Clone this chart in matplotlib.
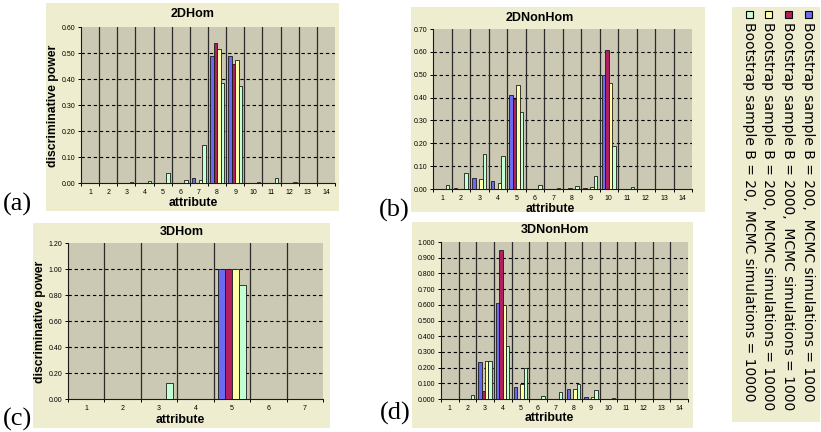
import numpy as np
import matplotlib.pyplot as plt
from matplotlib.patches import Rectangle

W, H = 821, 432

# --- data ---
series_names = ['Bootstrap sample B = 200,  MCMC simulations = 1000',
                'Bootstrap sample B = 2000,  MCMC simulations = 1000',
                'Bootstrap sample B = 200,  MCMC simulations = 10000',
                'Bootstrap sample B = 20,  MCMC simulations = 10000']
colors = ['#6B6BEF', '#B0205E', '#FFFFAA', '#C4FFD4']

# 2DHom
a_attr = list(range(1, 15))
a_blue = [0, 0, 0, 0, 0, 0, 0.020, 0.490, 0.490, 0, 0, 0, 0, 0]
a_red = [0, 0, 0, 0, 0, 0, 0, 0.540, 0.458, 0, 0, 0, 0, 0]
a_yellow = [0, 0, 0, 0, 0, 0, 0.012, 0.515, 0.472, 0, 0, 0, 0, 0]
a_green = [0, 0, 0.004, 0.008, 0.040, 0.012, 0.147, 0.385, 0.373, 0.003, 0.018, 0.003, 0, 0]

# 2DNonHom
b_attr = list(range(1, 15))
b_blue = [0, 0.003, 0.048, 0.035, 0.413, 0, 0, 0, 0.003, 0.500, 0, 0, 0, 0]
b_red = [0, 0, 0, 0, 0.395, 0, 0, 0.003, 0, 0.610, 0, 0, 0, 0]
b_yellow = [0, 0, 0.045, 0.027, 0.457, 0, 0, 0, 0.008, 0.465, 0, 0, 0, 0]
b_green = [0.017, 0.070, 0.153, 0.145, 0.337, 0.017, 0.003, 0.013, 0.057, 0.187, 0.008, 0, 0, 0]

# 3DHom
c_attr = list(range(1, 8))
c_blue = [0, 0, 0, 0, 1.0, 0, 0]
c_red = [0, 0, 0, 0, 1.0, 0, 0]
c_yellow = [0, 0, 0, 0, 1.0, 0, 0]
c_green = [0, 0, 0.120, 0, 0.876, 0, 0]

# 3DNonHom
d_attr = list(range(1, 15))
d_blue = [0, 0, 0.238, 0.610, 0.077, 0, 0, 0.063, 0.012, 0, 0, 0, 0, 0]
d_red = [0, 0, 0.053, 0.947, 0, 0, 0, 0, 0, 0, 0, 0, 0, 0]
d_yellow = [0, 0, 0.243, 0.596, 0.096, 0, 0, 0.062, 0.012, 0, 0, 0, 0, 0]
d_green = [0, 0.025, 0.243, 0.340, 0.200, 0.020, 0.047, 0.097, 0.060, 0.005, 0, 0, 0, 0]

beige = '#EEEDD0'
plotbg = '#CBC9B3'
sans = 'Liberation Sans'


def box(l, t, r, b):
    return [l / W, 1 - b / H, (r - l) / W, (b - t) / H]


def fx(x):
    return x / W


def fy(y):
    return 1 - y / H


fig = plt.figure(figsize=(W / 100, H / 100), dpi=100)


def panel(beige_box, plot_box, attr, vals, ymax, ystep, fmt, title, title_xy,
          xlabel_xy, ylabel_xy=None):
    l, t, r, b = beige_box
    fig.patches.append(Rectangle((fx(l), fy(b)), (r - l) / W, (b - t) / H,
                                 transform=fig.transFigure, facecolor=beige,
                                 edgecolor='none', zorder=-5))
    ax = fig.add_axes(box(*plot_box))
    ax.set_facecolor(plotbg)
    n = len(attr)
    x = np.array(attr, dtype=float)
    gw = 0.76
    w = gw / 4
    for i, v in enumerate(vals):
        ax.bar(x + (i - 1.5) * w, v, width=w, color=colors[i],
               edgecolor='#1a1a1a', linewidth=0.6, zorder=3)
    ax.set_xlim(0.5, n + 0.5)
    ax.set_ylim(0, ymax)
    yt = np.arange(0, ymax + ystep / 2, ystep)
    ax.set_yticks(yt)
    ax.set_yticklabels([fmt.format(v) for v in yt], fontsize=5, family=sans)
    for v in yt[1:-1]:
        ax.axhline(v, color='black', lw=0.8, ls=(0, (3, 2.5)), zorder=1)
    for k in range(1, n):
        ax.axvline(k + 0.5, color='#2a2a2a', lw=0.9, zorder=1)
    ax.set_xticks(x)
    ax.set_xticklabels([str(a) for a in attr], fontsize=5, family=sans)
    ax.set_xticks(np.arange(0.5, n + 1, 1), minor=True)
    ax.tick_params(axis='x', which='major', length=0, pad=4)
    ax.tick_params(axis='x', which='minor', length=2.5, width=0.7)
    ax.tick_params(axis='y', length=2.5, width=0.7, pad=1.5)
    for s in ['top', 'right']:
        ax.spines[s].set_visible(False)
    for s in ['left', 'bottom']:
        ax.spines[s].set_color('#1a1a1a')
        ax.spines[s].set_linewidth(0.8)
    fig.text(fx(title_xy[0]), fy(title_xy[1]), title, ha='center', va='center',
             fontsize=9, fontweight='bold', family=sans)
    fig.text(fx(xlabel_xy[0]), fy(xlabel_xy[1]), 'attribute', ha='center',
             va='center', fontsize=8.8, fontweight='bold', family=sans)
    if ylabel_xy is not None:
        fig.text(fx(ylabel_xy[0]), fy(ylabel_xy[1]), 'discriminative power',
                 ha='center', va='center', rotation=90, fontsize=8.8,
                 fontweight='bold', family=sans)
    return ax


panel((46, 3, 339, 211), (81, 27, 335, 183), a_attr,
      [a_blue, a_red, a_yellow, a_green], 0.60, 0.10, '{:.2f}', '2DHom',
      (193, 14), (193, 203), (53, 106))
panel((411, 7, 705, 212), (433, 29, 692, 189), b_attr,
      [b_blue, b_red, b_yellow, b_green], 0.70, 0.10, '{:.2f}', '2DNonHom',
      (540, 18), (550, 209))
panel((33, 223, 330, 428), (68, 243, 323, 399), c_attr,
      [c_blue, c_red, c_yellow, c_green], 1.20, 0.20, '{:.2f}', '3DHom',
      (182, 232), (180, 420), (40, 322))
panel((412, 222, 693, 428), (441, 242, 688, 399), d_attr,
      [d_blue, d_red, d_yellow, d_green], 1.0, 0.10, '{:.3f}', '3DNonHom',
      (555, 230), (549, 418))

# panel letters
for lab, (lx, ly) in zip(['(a)', '(b)', '(c)', '(d)'],
                         [(3, 204), (379, 210), (3, 419), (380, 413)]):
    fig.text(fx(lx), fy(ly), lab, ha='left', va='center', fontsize=19,
             family='Liberation Serif')

# rotated legend
fig.patches.append(Rectangle((fx(732), fy(422)), 88 / W, 415 / H,
                             transform=fig.transFigure, facecolor=beige,
                             edgecolor='none', zorder=-5))
leg_x = [808, 788, 768, 749]
for name, col, lx in zip(series_names, colors, leg_x):
    fig.patches.append(Rectangle((fx(lx - 3.5), fy(18)), 7 / W, 7 / H,
                                 transform=fig.transFigure, facecolor=col,
                                 edgecolor='black', linewidth=0.8, zorder=2))
    fig.text(fx(lx), fy(22), name, rotation=270, ha='center', va='top',
             fontsize=10, family='DejaVu Sans')

fig.savefig('out.png', dpi=100)
